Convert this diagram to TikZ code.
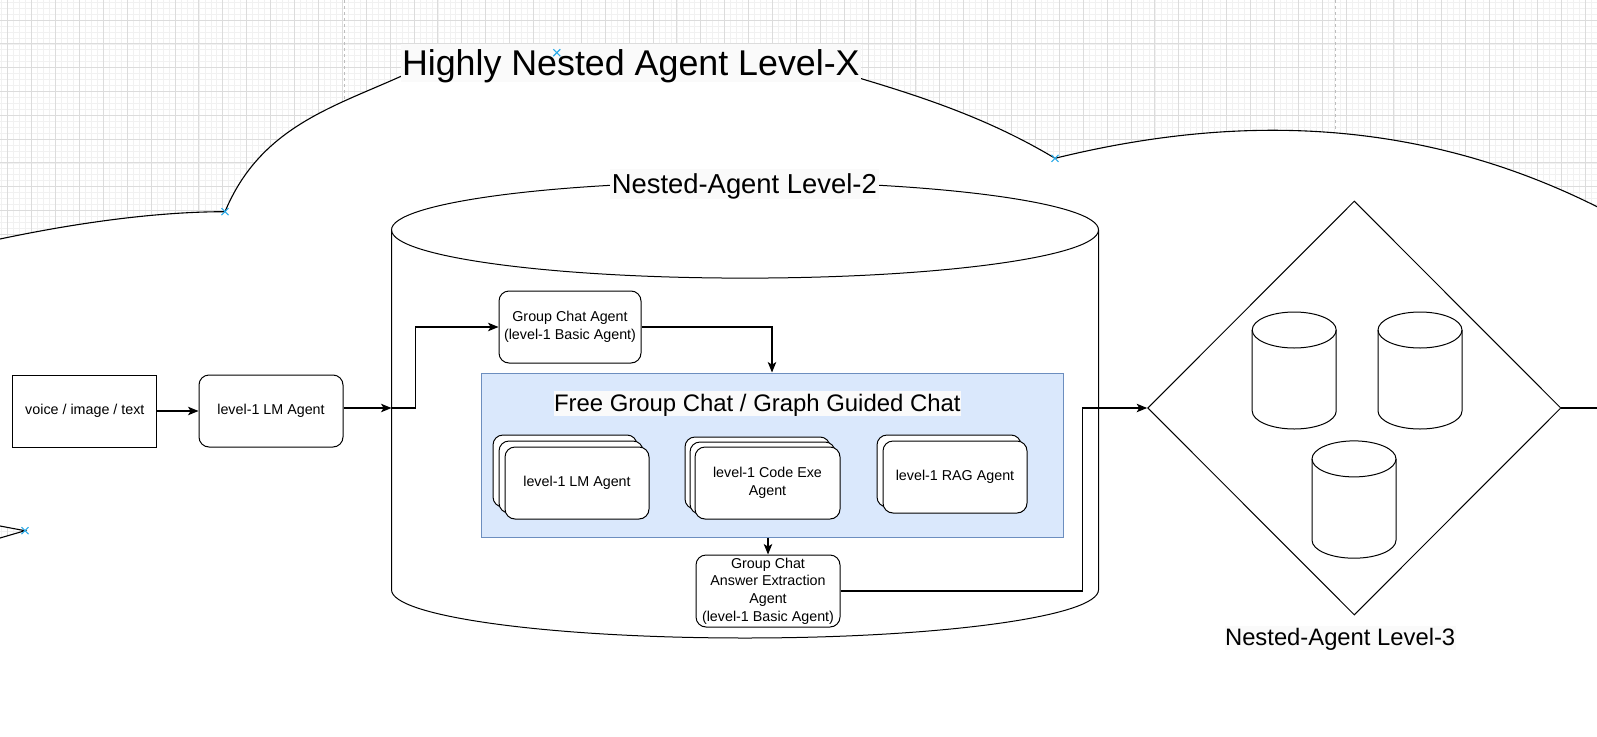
\documentclass[tikz,border=0pt]{standalone}
\usepackage{fontspec}
\setmainfont{Liberation Sans}
\usetikzlibrary{arrows.meta,shapes.geometric,calc}
\definecolor{gridmajor}{HTML}{DCDCDC}
\definecolor{gridminor}{HTML}{F1F1F1}
\definecolor{bluefill}{HTML}{DAE8FC}
\definecolor{blueline}{HTML}{6C8EBF}
\definecolor{markblue}{HTML}{2AAAE8}
\definecolor{labelbg}{HTML}{FAFAFA}
\definecolor{pagebreak}{HTML}{BDBDBD}
\newcommand\dbcyl[3]{%
  \draw ({#1-42},#2) -- ({#1-42},#3) arc[start angle=180,end angle=0,x radius=42,y radius=18] -- ({#1+42},#2);
  \draw (#1,#2) ellipse[x radius=42, y radius=18];}
\newcommand\bluex[2]{%
  \draw[markblue, line width=1.1pt] ({#1-3.5},{#2-3.5}) -- ({#1+3.5},{#2+3.5}) ({#1-3.5},{#2+3.5}) -- ({#1+3.5},{#2-3.5});}
\newcommand\cloudline{(0,239) .. controls (71,224) and (153,211.7) .. (225,211.7)
  .. controls (260,127.7) and (331.7,107.5) .. (401.7,76)
  .. controls (480,40.8) and (740,42.3) .. (860,78.3)
  .. controls (925,97.8) and (990,119.3) .. (1055,158.3)
  .. controls (1235,114) and (1417,116.7) .. (1597,206.7) -- (1640,240)}
\begin{document}
\begin{tikzpicture}[x=1pt,y=-1pt,line width=1pt,
  arr/.style={draw, line width=1.1pt, -{Stealth[length=10.5pt,width=8.5pt,inset=2.6pt]}},
  plain/.style={draw, line width=1.1pt},
  sbox/.style={draw, fill=white, minimum width=144pt, minimum height=72pt, inner sep=0pt, align=center,
     font=\fontsize{14.3}{17.7}\selectfont},
  rbox/.style={sbox, rounded corners=10pt},
  lbl/.style={fill=labelbg, inner sep=0pt, anchor=north west},
]
\useasboundingbox (0,0) rectangle (1597,736);
\clip (0,0) rectangle (1597,736);
% grid
\foreach \i in {0,...,271} \draw[gridminor, line width=0.6pt] ({-16.25+5.975*\i},0) -- ++(0,736);
\foreach \i in {0,...,125} \draw[gridminor, line width=0.6pt] (0,{-3.8+5.95*\i}) -- ++(1597,0);
\foreach \i in {0,...,67} \draw[gridmajor, line width=0.9pt] ({7.65+23.9*\i},0) -- ++(0,736);
\foreach \i in {0,...,31} \draw[gridmajor, line width=0.9pt] (0,{-3.8+23.8*\i}) -- ++(1597,0);
\draw[pagebreak, dashed, line width=0.9pt] (344.4,0) -- (344.4,130);
\draw[pagebreak, dashed, line width=0.9pt] (1335.6,0) -- (1335.6,150);
% cloud
\path[fill=white] \cloudline -- (1640,760) -- (0,760) -- (0,538) -- (25,530.7) -- (0,526) -- cycle;
\draw[line width=1.1pt] \cloudline;
\draw[line width=1.1pt] (0,538) -- (25,530.7) -- (0,526);
% title
\node[lbl, minimum width=459.3pt, text height=32pt, text depth=6.7pt, font=\fontsize{35.8}{40}\selectfont] (title) at (400.7,43) {Highly Nested Agent Level-X};
\bluex{225}{211.7}
\bluex{1055}{158.3}
\bluex{25}{530.7}
\bluex{556.8}{52.7}
% level-2 cylinder
\draw (391.5,229.9) -- (391.5,589.8) arc[start angle=180, end angle=0, x radius=353.5, y radius=48.2] -- (1098.5,229.9);
\draw (745,229.9) ellipse[x radius=353.5, y radius=48.2];
\coordinate (cylL) at (391.5,408);
\node[lbl, minimum width=268.4pt, text height=24.7pt, text depth=5.3pt, font=\fontsize{27.4}{30}\selectfont] (l2label) at (609.6,168) {Nested-Agent Level-2};
% left boxes
\node[sbox] (voice) at (84.85,411) {voice / image / text};
\node[rbox] (lm) at (271,411) {level-1 LM Agent};
\draw[arr] (voice) -- (lm);
\draw[arr] (lm.east |- cylL) -- (cylL);
% group chat agent
\node[rbox, minimum width=142pt] (gca) at (570,327) {Group Chat Agent\\(level-1 Basic Agent)};
\draw[arr] (cylL) -- ++(24,0) |- (gca.west);
% free group chat container
\node[draw=blueline, fill=bluefill, minimum width=582pt, minimum height=164pt, inner sep=0pt] (fgc) at (772,455) {};
\draw[arr] (gca.east) -| (fgc.north);
\node[lbl, minimum width=407.6pt, text height=20.7pt, text depth=4.3pt, font=\fontsize{23.9}{26}\selectfont] (fgctitle) at (553,390) {Free Group Chat / Graph Guided Chat};
% card stacks
\node[rbox] (lmC) at (565,471) {};
\node[rbox] (lmB) at (571,477) {};
\node[rbox] (lmA) at (577,483) {level-1 LM Agent};
\node[rbox, minimum width=145pt] (ceC) at (757.5,473) {};
\node[rbox, minimum width=145pt] (ceB) at (762.5,478) {};
\node[rbox, minimum width=145pt] (ceA) at (767.5,483) {level-1 Code Exe\\Agent};
\node[rbox] (ragB) at (949,471) {};
\node[rbox] (ragA) at (955,477) {level-1 RAG Agent};
% answer extraction
\node[rbox] (ans) at (768,591) {Group Chat\\Answer Extraction\\Agent\\(level-1 Basic Agent)};
\draw[arr] (ans.north |- fgc.south) -- (ans.north);
% level-3 diamond
\node[draw, diamond, minimum width=413.3pt, minimum height=414pt, inner sep=0pt] (dia) at (1354.3,408) {};
\draw[arr] (ans.east) -- ++(241.7,0) |- (dia.west);
\coordinate (rightend) at (1597,408);
\draw[plain] (dia.east) -- (rightend);
\dbcyl{1294.2}{330}{411}
\dbcyl{1420}{330}{411}
\dbcyl{1354}{458.9}{540.2}
\node[lbl, minimum width=230.7pt, text height=20pt, text depth=4pt, font=\fontsize{23.8}{26}\selectfont] (l3label) at (1224.3,625) {Nested-Agent Level-3};
\end{tikzpicture}
\end{document}
